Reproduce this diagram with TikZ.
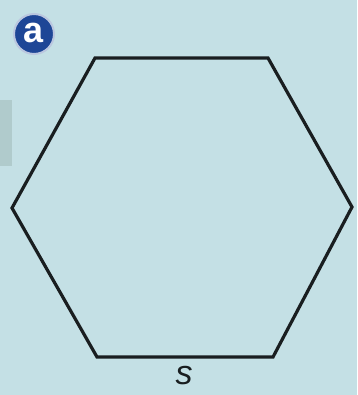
\documentclass[tikz,border=0pt]{standalone}
\usepackage{fontspec}
\setmainfont{Liberation Sans}
\definecolor{bg}{RGB}{196,224,229}
\definecolor{greybox}{RGB}{176,203,204}
\definecolor{badge}{RGB}{30,70,150}
\definecolor{edge}{RGB}{25,30,32}
\tikzset{
  hexedge/.style={draw=edge, line width=3.2pt, line join=miter},
  badgestyle/.style={circle, fill=badge, draw=white!70!badge, line width=2pt, minimum size=40pt, inner sep=0pt, text=white, font=\fontsize{36}{36}\selectfont\bfseries},
  lbl/.style={font=\fontsize{34}{34}\selectfont\itshape, text=edge}
}
\begin{document}
\begin{tikzpicture}[x=1pt,y=-1pt]
\fill[bg] (0,0) rectangle (357,395);
\useasboundingbox (0,0) rectangle (357,395);
\fill[greybox] (0,100) rectangle (12,166);
\node[badgestyle] (badge) at (34,34) {\raisebox{2pt}{a}};
\coordinate (A) at (95,58);
\coordinate (B) at (268,58);
\coordinate (C) at (352,207);
\coordinate (D) at (273,357);
\coordinate (E) at (97,357);
\coordinate (F) at (12,208);
\draw[hexedge] (A) -- (B) -- (C) -- (D) -- (E) -- (F) -- cycle;
\node[lbl] (s) at (184,376) {s};
\end{tikzpicture}
\end{document}
